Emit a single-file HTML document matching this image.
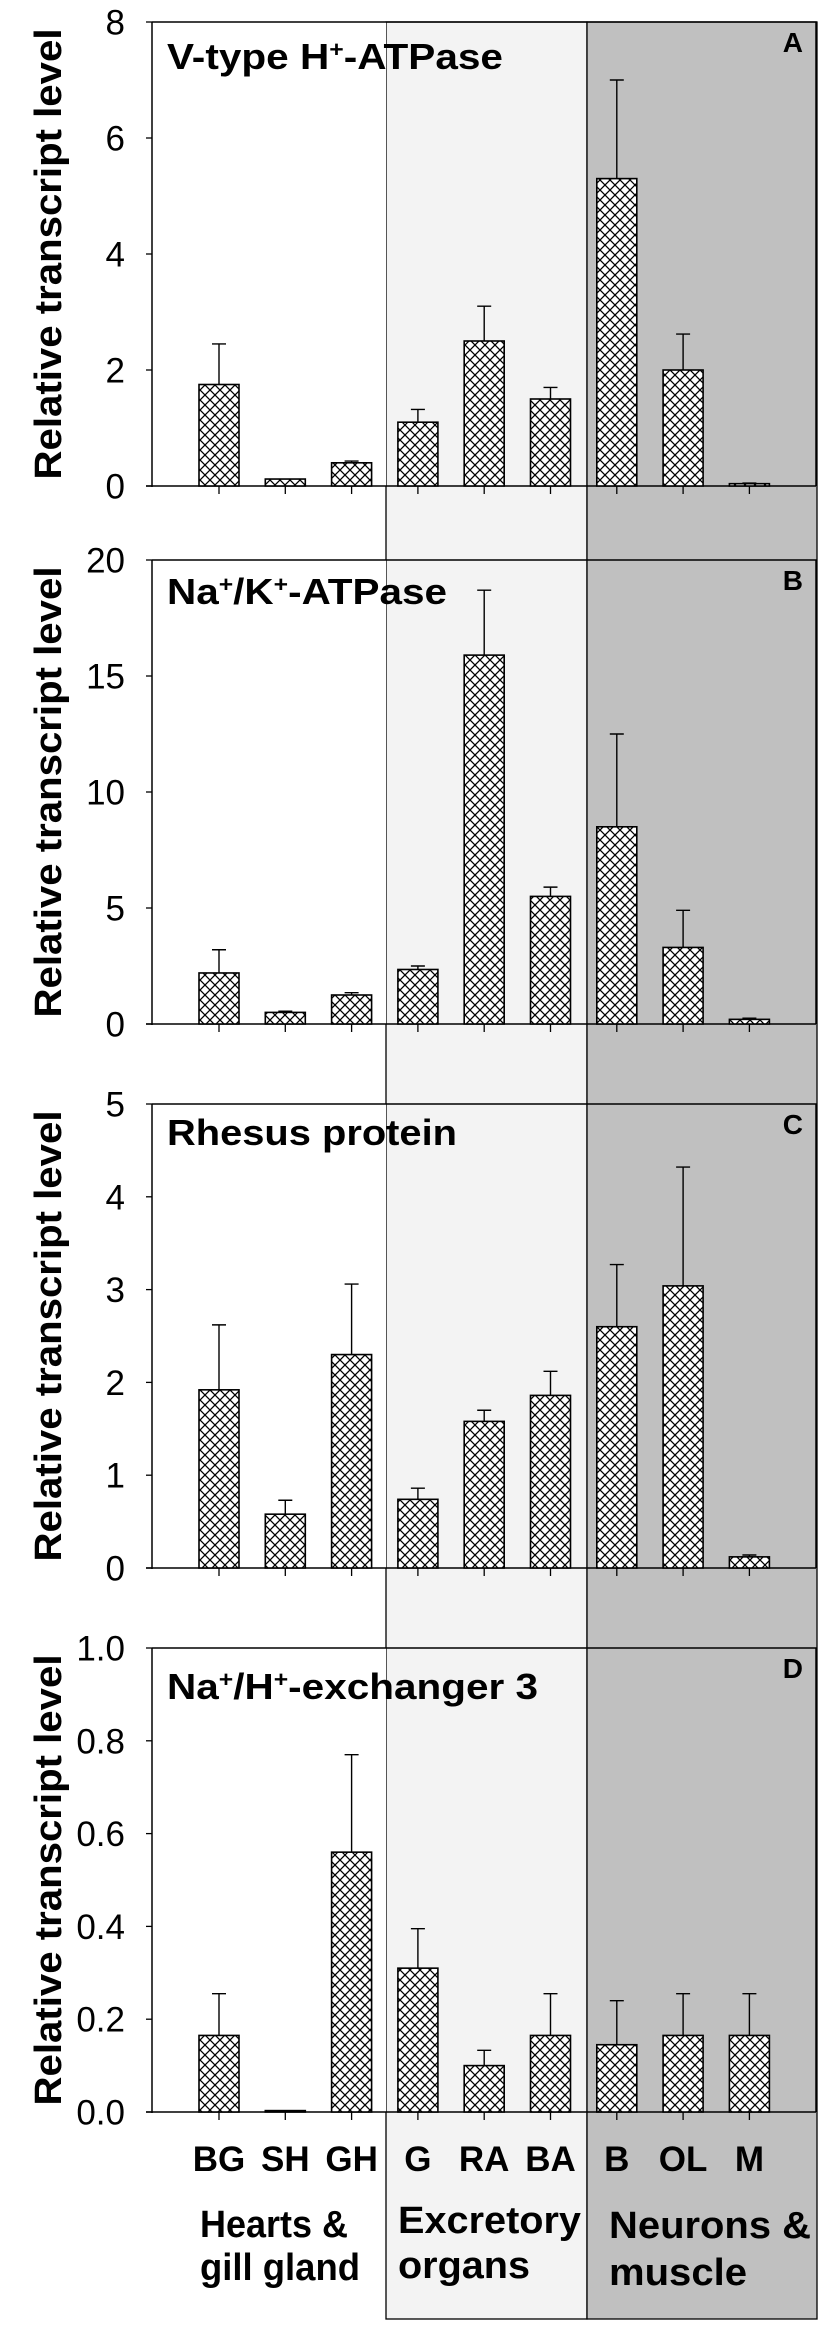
<!DOCTYPE html>
<html><head><meta charset="utf-8"><style>
html,body{margin:0;padding:0;background:#fff;}
svg{display:block;font-family:"Liberation Sans",Arial,sans-serif;}
</style></head><body>
<svg id="chart" width="827" height="2325" viewBox="0 0 827 2325" xmlns="http://www.w3.org/2000/svg">
<defs>
<pattern id="hatch" patternUnits="userSpaceOnUse" width="10" height="10">
<rect width="10" height="10" fill="#fff"/>
<path d="M0,0L10,10M10,0L0,10M-1,9L1,11M9,-1L11,1M-1,1L1,-1M9,11L11,9" stroke="#000" stroke-width="1.3"/>
</pattern>
</defs>
<rect x="386" y="22" width="201" height="2297" fill="#f3f3f3" stroke="#000" stroke-width="1.3"/>
<rect x="587" y="22" width="230" height="2297" fill="#c0c0c0" stroke="#000" stroke-width="1.3"/>
<g id="plots"></g>
</svg>
<script>
const categories = ["BG","SH","GH","G","RA","BA","B","OL","M"];
const valuesA = [1.75,0.12,0.40,1.10,2.50,1.50,5.30,2.00,0.04];
const errorsA = [2.45,0.12,0.43,1.32,3.10,1.70,7.00,2.62,0.05];
const valuesB = [2.2,0.5,1.25,2.35,15.9,5.5,8.5,3.3,0.2];
const errorsB = [3.2,0.55,1.35,2.5,18.7,5.9,12.5,4.9,0.25];
const valuesC = [1.92,0.58,2.30,0.74,1.58,1.86,2.60,3.04,0.12];
const errorsC = [2.62,0.73,3.06,0.86,1.70,2.12,3.27,4.32,0.14];
const valuesD = [0.165,0.003,0.56,0.31,0.10,0.165,0.145,0.165,0.165];
const errorsD = [0.255,0.003,0.77,0.395,0.133,0.255,0.24,0.255,0.255];
const ticksA = ["0","2","4","6","8"];
const ticksB = ["0","5","10","15","20"];
const ticksC = ["0","1","2","3","4","5"];
const ticksD = ["0.0","0.2","0.4","0.6","0.8","1.0"];
const yMaxes = [8,20,5,1];
const titles = ["A","B","C","D"];

const NS="http://www.w3.org/2000/svg";
const root=document.getElementById('plots');
function mk(tag,attrs,parent){const e=document.createElementNS(NS,tag);for(const k in attrs)e.setAttribute(k,attrs[k]);(parent||root).appendChild(e);return e;}

const panels=[
 {top:22,vals:valuesA,errs:errorsA,ticks:ticksA,max:yMaxes[0],letter:titles[0],title:[["V-type H",""],["+","sup"],["-ATPase",""]],tl:336,tb:69},
 {top:560,vals:valuesB,errs:errorsB,ticks:ticksB,max:yMaxes[1],letter:titles[1],title:[["Na",""],["+","sup"],["/K",""],["+","sup"],["-ATPase",""]],tl:280,tb:604},
 {top:1104,vals:valuesC,errs:errorsC,ticks:ticksC,max:yMaxes[2],letter:titles[2],title:[["Rhesus protein",""]],tl:290,tb:1145},
 {top:1648,vals:valuesD,errs:errorsD,ticks:ticksD,max:yMaxes[3],letter:titles[3],title:[["Na",""],["+","sup"],["/H",""],["+","sup"],["-exchanger 3",""]],tl:371,tb:1699}
];
const H=464, X0=152, X1=816;
function xc(i){return 219+i*66.3;}

panels.forEach((p,pi)=>{
  const zero=p.top+H;
  const ys=v=>zero-v/p.max*H;
  const g=mk('g',{});
  
  
  // white area
  const w=mk('rect',{x:X0,y:p.top,width:386-X0,height:H,fill:'#fff'},g);
  
  
  // frame lines
  const fr=mk('path',{d:`M${X0},${p.top}L${X1},${p.top}L${X1},${zero}M${X0},${p.top}L${X0},${zero+1}M146,${zero}L${X1},${zero}`,stroke:'#000','stroke-width':1.5,fill:'none'},g);
  
  
  // y ticks
  p.ticks.forEach((t,ti)=>{
    const v=parseFloat(t); const y=ys(v);
    const tk=mk('line',{x1:146,x2:X0,y1:y,y2:y,stroke:'#000','stroke-width':1.3},g);
    
    
    const tx=mk('text',{x:125,y:y+12.5,'font-size':35,'text-anchor':'end',fill:'#000'},g);
    
    
    tx.textContent=t;
  });
  // y title
  const cy=zero-232;
  const yt=mk('text',{x:0,y:0,'font-size':38,'font-weight':'bold','text-anchor':'middle',transform:`translate(61,${cy}) rotate(-90)`,textLength:451,lengthAdjust:'spacingAndGlyphs'},g);
  
  
  yt.textContent='Relative transcript level';
  // title
  const tt=mk('text',{x:167,y:p.tb,'font-size':36,'font-weight':'bold',textLength:p.tl,lengthAdjust:'spacingAndGlyphs'},g);
  
  
  p.title.forEach(([s,k])=>{const ts=mk('tspan',{},tt);if(k==='sup'){ts.setAttribute('baseline-shift','super');ts.setAttribute('font-size','22');}ts.textContent=s;});
  const lt=mk('text',{x:803,y:p.top+30,'font-size':28,'font-weight':'bold','text-anchor':'end'},g);
  
  
  lt.textContent=p.letter;
  // bars
  categories.forEach((c,i)=>{
    const x=xc(i), v=p.vals[i], e=p.errs[i];
    const ytop=ys(v);
    if(e>v){
      const el=mk('path',{d:`M${x},${ytop}L${x},${ys(e)}M${x-7},${ys(e)}L${x+7},${ys(e)}`,stroke:'#000','stroke-width':1.4,fill:'none'},g);
      
      
    }
    const b=mk('rect',{x:x-20,y:ytop,width:40,height:Math.max(zero-ytop,1),fill:'url(#hatch)',stroke:'#000','stroke-width':1.6},g);
    
    
    const xt=mk('line',{x1:x,x2:x,y1:zero,y2:zero+8,stroke:'#000','stroke-width':1.3},g);
    
    
    if(pi===3){
      const xl=mk('text',{x:x,y:2171,'font-size':35,'font-weight':'bold','text-anchor':'middle'},g);
      
      
      xl.textContent=c;
    }
  });
});
const groups=[["Hearts &",200,2237,148],["gill gland",200,2280,160],["Excretory",398,2233,183],["organs",398,2278,132],["Neurons &",609,2238,202],["muscle",609,2285,138]];
groups.forEach(([s,x,y,l])=>{
  const t=mk('text',{x:x,y:y,'font-size':38,'font-weight':'bold',textLength:l,lengthAdjust:'spacingAndGlyphs'});
  
  
  t.textContent=s;
});
</script>
</body></html>
